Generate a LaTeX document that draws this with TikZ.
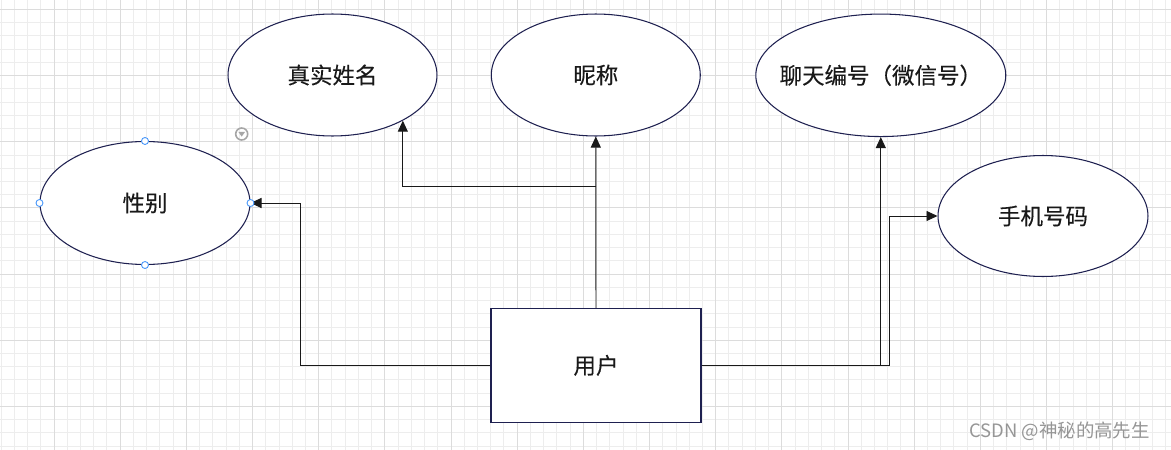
\documentclass[tikz,border=0pt]{standalone}
\usepackage{fontspec}
\newfontfamily\cjk[FakeBold=0.2]{Noto Sans CJK SC}
\newfontfamily\cjkwm{Noto Sans CJK SC}
\usetikzlibrary{shapes.geometric,arrows.meta}
\definecolor{navy}{RGB}{30,32,80}
\definecolor{gridlo}{RGB}{237,237,237}
\definecolor{gridhi}{RGB}{220,220,220}
\definecolor{handleblue}{RGB}{70,150,250}
\definecolor{wmgray}{RGB}{150,150,150}
\begin{document}
\begin{tikzpicture}[x=0.02cm, y=-0.02cm,
    attr/.style={ellipse, draw=navy, line width=0.6pt, fill=white, inner sep=0pt,
        font=\cjk\fontsize{12.8}{15}\selectfont, text=black!90,
        minimum width=4.18cm, minimum height=2.44cm},
    ent/.style={rectangle, draw=navy, line width=0.6pt, fill=white, inner sep=0pt,
        font=\cjk\fontsize{12.8}{15}\selectfont, text=black!90,
        minimum width=4.2cm, minimum height=2.28cm},
    arr/.style={-{Triangle[length=0.22cm,width=0.2cm]}, line width=0.55pt, black!90},
    handle/.style={draw=handleblue, fill=white, line width=0.5pt},
    minorline/.style={gridlo, line width=0.5pt},
    majorline/.style={gridhi, line width=0.5pt}]
    \fill[white] (0,0) rectangle (1171,450);
    \useasboundingbox (0,0) rectangle (1171,450);
    \begin{scope}
        \clip (0,0) rectangle (1171,450);
        \foreach \k in {-4,...,85}
            \draw[minorline] ({54+13.233*\k},0) -- ({54+13.233*\k},450);
        \foreach \k in {0,...,33}
            \draw[minorline] (0,{9.4+13.233*\k}) -- (1171,{9.4+13.233*\k});
        \foreach \m in {0,...,16}
            \draw[majorline] ({54+66.17*\m},0) -- ({54+66.17*\m},450);
        \foreach \m in {0,...,6}
            \draw[majorline] (0,{9.4+66.17*\m}) -- (1171,{9.4+66.17*\m});
    \end{scope}

    \node[attr] (zsxm) at (332.5,75) {真实姓名};
    \node[attr] (nc) at (595.8,75) {昵称};
    \node[attr, minimum width=5cm, minimum height=2.45cm] (ltbh) at (880.8,75.3) {\makebox[0pt]{聊天编号（微信号）}};
    \node[attr, minimum width=4.2cm, minimum height=2.46cm] (xb) at (145,203) {性别};
    \node[attr, minimum width=4.2cm, minimum height=2.42cm] (sjhm) at (1043,216) {手机号码};
    \node[ent] (yh) at (596,365.3) {用户};

    \coordinate (jtop) at (596,186.3);
    \coordinate (jleft) at (300,203);
    \coordinate (jright) at (889.3,216);

    \draw[arr] (yh.north) -- (nc.south);
    \draw[arr] (jtop) -| (zsxm.-33);
    \draw[arr] (yh.west) -| (jleft) -- (xb.east);
    \draw[arr] (yh.east) -| (ltbh.south);
    \draw[arr] (yh.east) -| (jright) -- (sjhm.west);

    \foreach \a in {north,south,east,west}
        \draw[handle] (xb.\a) circle (3.5);
    \draw[gray!70, line width=0.9pt] (241.7,134) circle (6);
    \fill[gray!70] (238.3,131.8) -- (245.1,131.8) -- (241.7,136.6) -- cycle;

    \node[anchor=east, font=\cjkwm\fontsize{10.5}{12}\selectfont, text=wmgray] (wm) at (1156,431) {CSDN @神秘的高先生};
\end{tikzpicture}
\end{document}
